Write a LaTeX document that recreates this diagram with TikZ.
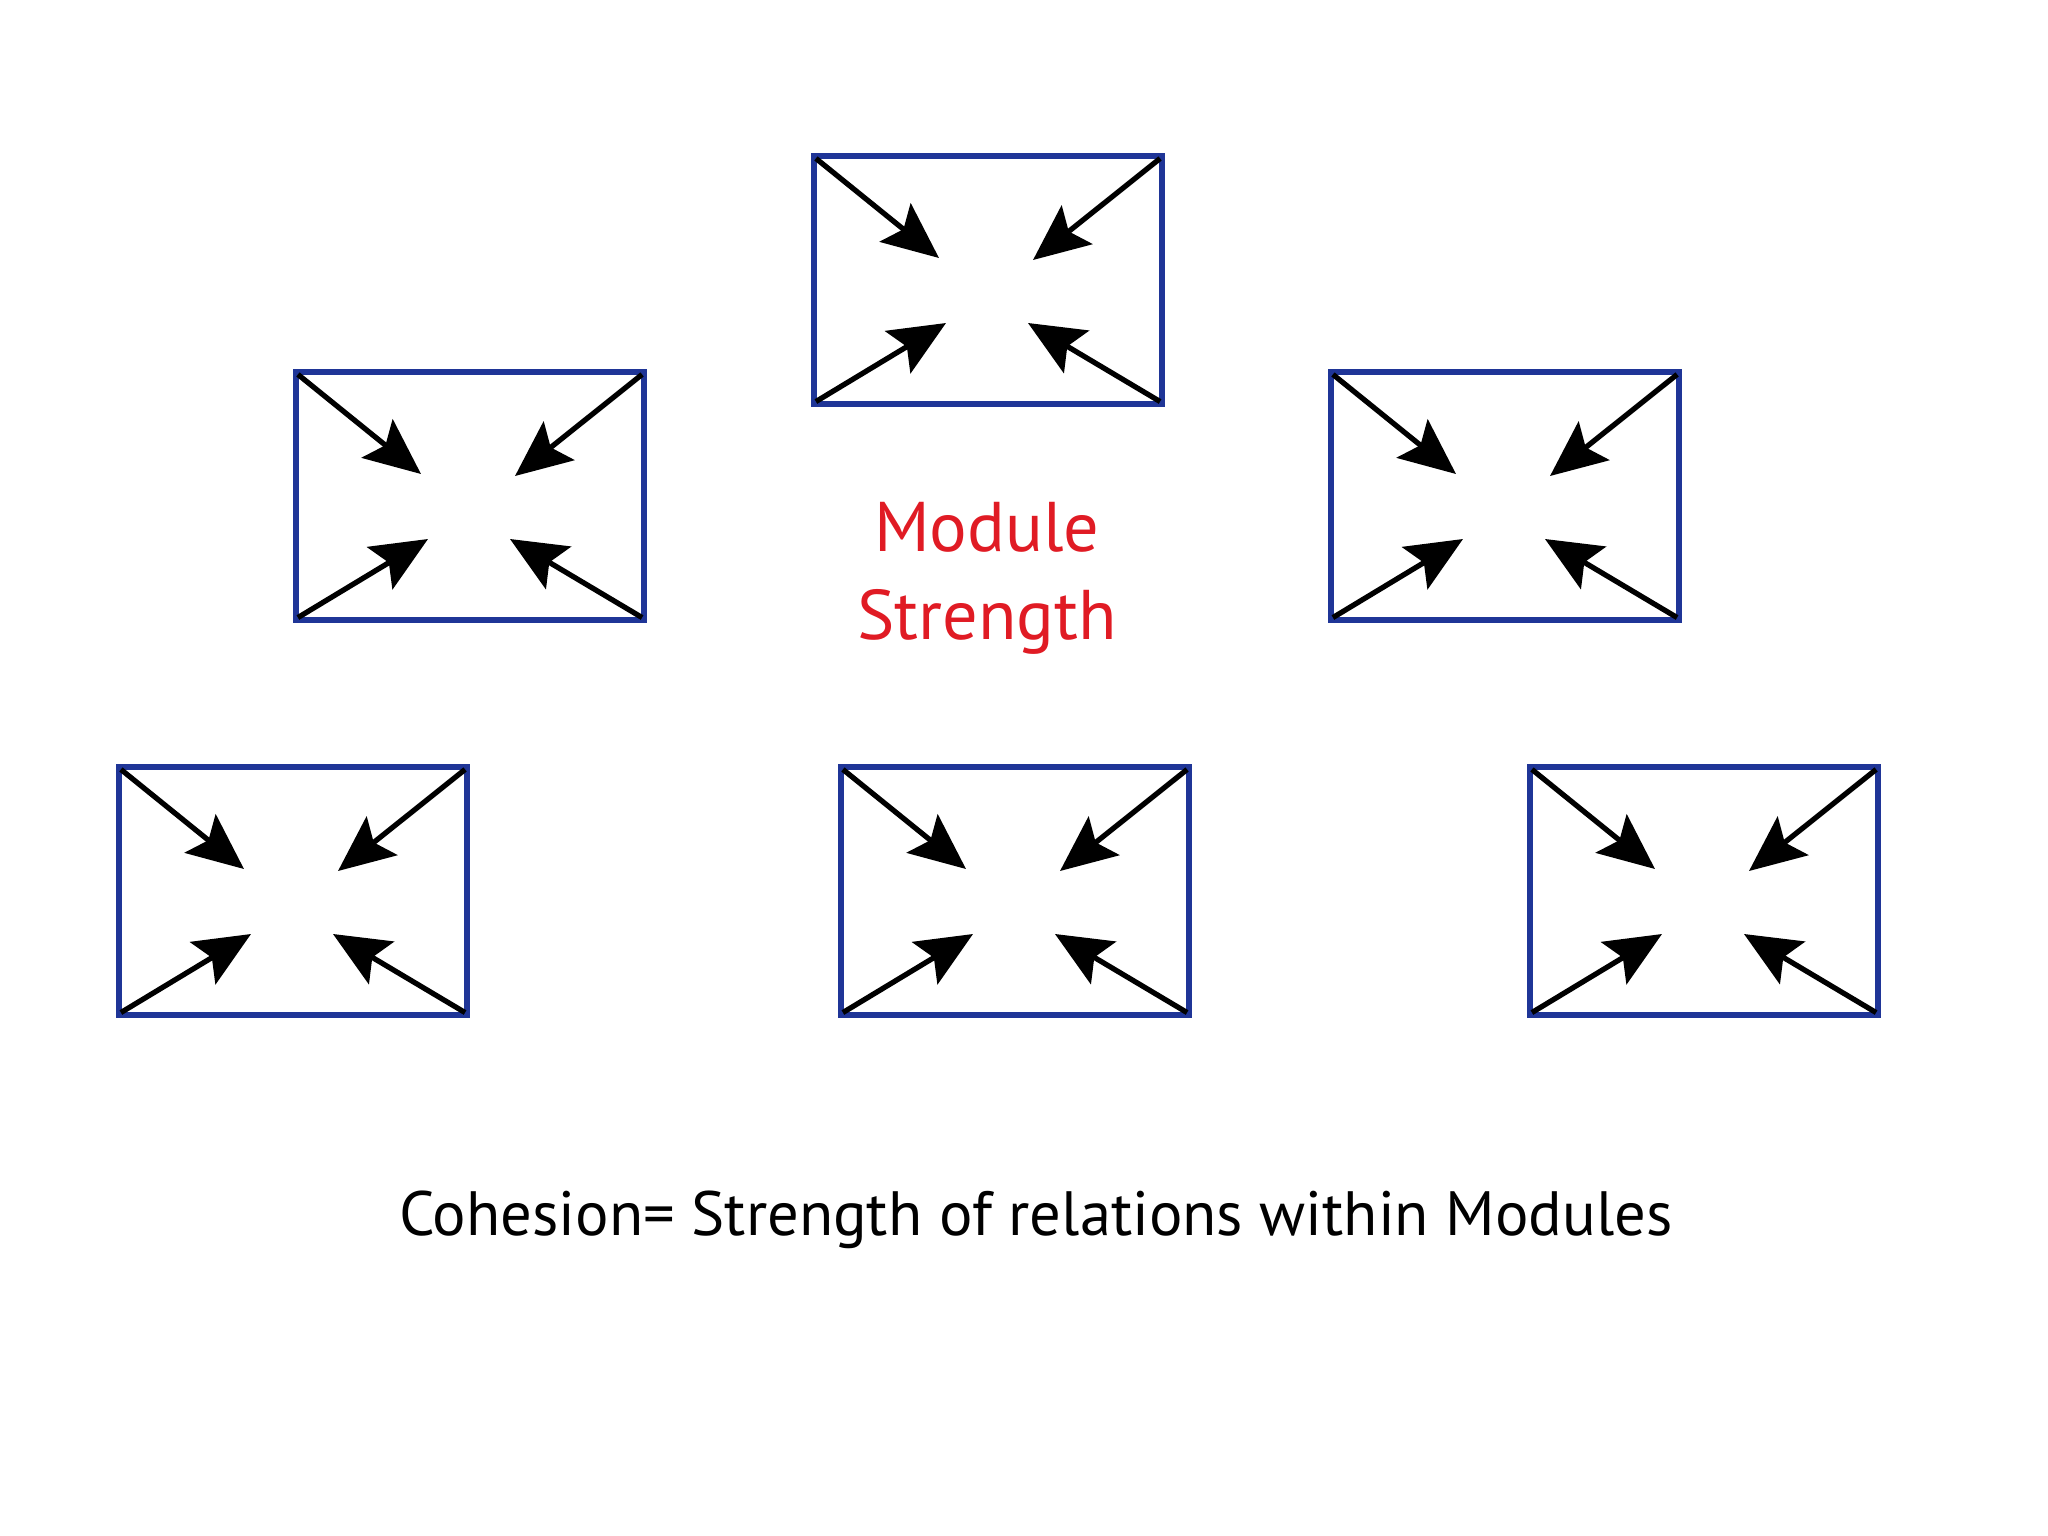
\documentclass[tikz,border=0pt]{standalone}
\usepackage{fontspec}
\setmainfont{PT Sans}
\usetikzlibrary{arrows.meta,calc}
\definecolor{boxblue}{HTML}{1F3597}
\definecolor{labred}{HTML}{E01B24}
\tikzset{
  modbox/.style={draw=boxblue, line width=1.7pt, minimum width=3.48cm, minimum height=2.47cm, inner sep=0pt, fill=white},
  inarrow/.style={line width=1.5pt, -{Stealth[length=16pt,width=14pt,inset=3pt]}},
}
\begin{document}
\begin{tikzpicture}[x=0.01cm,y=-0.01cm]
\useasboundingbox (0,0) rectangle (2048,1536);
\node[modbox] (top) at (988,280) {};
\node[modbox] (ml)  at (470,496) {};
\node[modbox] (mr)  at (1505,496) {};
\node[modbox] (bl)  at (293,891) {};
\node[modbox] (bm)  at (1015,891) {};
\node[modbox] (br)  at (1704,891) {};
\foreach \b in {top,ml,mr,bl,bm,br}{
  \draw[inarrow] ($(\b.north west)+(5,5)$) -- ($(\b.center)+(-49,-22)$);
  \draw[inarrow] ($(\b.north east)+(-5,5)$) -- ($(\b.center)+(45,-20)$);
  \draw[inarrow] ($(\b.south west)+(5,-5)$) -- ($(\b.center)+(-42,43)$);
  \draw[inarrow] ($(\b.south east)+(-5,-5)$) -- ($(\b.center)+(40,43)$);
}
\node[text=labred, font=\fontsize{20}{25}\selectfont, align=center] (lab) at (987,578) {Module\\Strength};
\node[font=\fontsize{17.8}{21}\selectfont] (cap) at (1036,1220) {Cohesion= Strength of relations within Modules};
\end{tikzpicture}
\end{document}
